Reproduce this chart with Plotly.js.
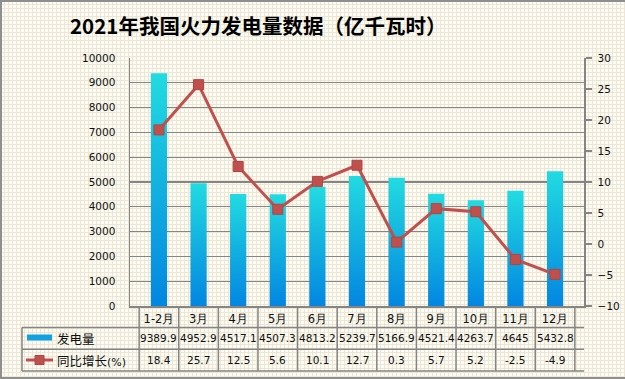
<!DOCTYPE html>
<html>
<head>
<meta charset="utf-8">
<script src="https://cdn.plot.ly/plotly-3.0.1.min.js"></script>
<style>
  html, body { margin: 0; padding: 0; }
  body {
    width: 625px; height: 379px; overflow: hidden; position: relative;
    background-color: #fcfbf4;
    background-image: linear-gradient(#ebe7d4 1px, transparent 1px), linear-gradient(90deg, #ebe7d4 1px, transparent 1px);
    background-size: 4px 4px;
  }
  #chart { width: 625px; height: 379px; position: absolute; left: 0; top: 0; }
  #frame { position: absolute; left: 0; top: 0; width: 625px; height: 379px; box-sizing: border-box;
    border-top: 2px solid #8f8f8f; border-left: 2px solid #8f8f8f; border-bottom: 2px solid #8f8f8f; pointer-events: none; }
</style>
</head>
<body>
<div id="chart"></div>
<div id="frame"></div>
<script>
const months = ['1-2月','3月','4月','5月','6月','7月','8月','9月','10月','11月','12月'];
const generation = [9389.9, 4952.9, 4517.1, 4507.3, 4813.2, 5239.7, 5166.9, 4521.4, 4263.7, 4645, 5432.8];
const growth = [18.4, 25.7, 12.5, 5.6, 10.1, 12.7, 0.3, 5.7, 5.2, -2.5, -4.9];
const seriesNames = ['发电量', '同比增长(%)'];
const titleText = '2021年我国火力发电量数据（亿千瓦时）';

const W = 625, H = 379, L = 130, R = 41, T = 58, B = 73;
const pw = W - L - R, ph = H - T - B;
const px = v => (v - L) / pw;          // pixel x -> paper x
const py = v => (H - B - v) / ph;      // pixel y -> paper y

const gray = '#858585';
const numFont = {family: 'DejaVu Sans, Verdana, sans-serif', size: 10.5, color: '#111'};
const cjkFont = {family: 'Noto Sans CJK SC, sans-serif', size: 12.5, color: '#111'};

const traces = [
  {type: 'bar', x: months, y: generation, name: seriesNames[0], yaxis: 'y',
   marker: {color: '#12a6e2', line: {width: 0}}, hoverinfo: 'none'},
  {type: 'scatter', mode: 'lines+markers', x: months, y: growth, name: seriesNames[1], yaxis: 'y2',
   line: {color: '#c0504d', width: 3},
   marker: {symbol: 'square', size: 10, color: '#c0504d', line: {color: '#b04542', width: 1}}, hoverinfo: 'none'}
];

const row1 = 327.5, row2 = 349.3, row3 = 371;
const legLeft = 22;
const shapes = [];
[row1, row2, row3].forEach(yv => shapes.push({type: 'line', xref: 'paper', yref: 'paper',
  x0: px(legLeft), x1: 1, y0: py(yv), y1: py(yv), line: {color: gray, width: 1.5}}));
for (let i = 0; i <= months.length; i++) {
  shapes.push({type: 'line', xref: 'x', yref: 'paper', x0: i - 0.5, x1: i - 0.5,
    y0: 0, y1: py(row3), line: {color: gray, width: 1.5}});
}
shapes.push({type: 'line', xref: 'paper', yref: 'paper', x0: px(legLeft), x1: px(legLeft),
  y0: py(row1), y1: py(row3), line: {color: gray, width: 1.5}});
shapes.push({type: 'rect', xref: 'paper', yref: 'paper', x0: px(27), x1: px(52), y0: py(334.5), y1: py(340.5),
  fillcolor: '#12a2e2', line: {width: 0}});
shapes.push({type: 'line', xref: 'paper', yref: 'paper', x0: px(26), x1: px(53), y0: py(360), y1: py(360),
  line: {color: '#c0504d', width: 3}});
shapes.push({type: 'rect', xref: 'paper', yref: 'paper', x0: px(35), x1: px(44), y0: py(355.5), y1: py(364.5),
  fillcolor: '#c0504d', line: {color: '#b04542', width: 1}});

const annotations = [];
annotations.push({text: '<b>' + titleText + '</b>', xref: 'paper', yref: 'paper', x: px(258), y: py(25),
  showarrow: false, font: {family: 'Noto Sans CJK SC, sans-serif', size: 20.5, color: '#000'}, xanchor: 'center', yanchor: 'middle'});
months.forEach((m, i) => {
  annotations.push({text: String(generation[i]), x: m, xref: 'x', yref: 'paper', y: py((row1 + row2) / 2),
    showarrow: false, font: numFont, xanchor: 'center', yanchor: 'middle'});
  annotations.push({text: String(growth[i]), x: m, xref: 'x', yref: 'paper', y: py((row2 + row3) / 2),
    showarrow: false, font: numFont, xanchor: 'center', yanchor: 'middle'});
});
annotations.push({text: seriesNames[0], xref: 'paper', yref: 'paper', x: px(55), y: py(338),
  showarrow: false, font: cjkFont, xanchor: 'left', yanchor: 'middle'});
annotations.push({text: seriesNames[1].replace('(%)', '') + '<span style="font-family:DejaVu Sans;font-size:11px">(%)</span>',
  xref: 'paper', yref: 'paper', x: px(55), y: py(360),
  showarrow: false, font: cjkFont, xanchor: 'left', yanchor: 'middle'});

const layout = {
  width: W, height: H,
  margin: {l: L, r: R, t: T, b: B, pad: 0},
  paper_bgcolor: 'rgba(0,0,0,0)', plot_bgcolor: 'rgba(0,0,0,0)',
  showlegend: false,
  bargap: 0.59,
  xaxis: {type: 'category', showline: true, linecolor: gray, linewidth: 1.5, ticks: '', showgrid: false,
    tickfont: {family: 'DejaVu Sans, Verdana, sans-serif', size: 11.5, color: '#111'}, ticklabelstandoff: 2, fixedrange: true},
  yaxis: {range: [0, 10000], dtick: 1000, tickformat: 'd', showgrid: true, gridcolor: gray, gridwidth: 1.2, zeroline: false,
    showline: true, linecolor: gray, linewidth: 1.5, ticks: '', tickfont: numFont, ticklabelstandoff: 11, fixedrange: true},
  yaxis2: {range: [-10, 30], dtick: 5, overlaying: 'y', side: 'right', showgrid: false, zeroline: false,
    showline: true, linecolor: gray, linewidth: 1.5, ticks: 'outside', ticklen: 6, tickcolor: gray, tickwidth: 1.2,
    tickfont: numFont, ticklabelstandoff: 4, fixedrange: true},
  shapes: shapes,
  annotations: annotations
};

Plotly.newPlot('chart', traces, layout, {staticPlot: true, displayModeBar: false}).then(gd => {
  const svg = gd.querySelector('svg.main-svg');
  const ns = 'http://www.w3.org/2000/svg';
  let defs = svg.querySelector('defs');
  if (!defs) { defs = document.createElementNS(ns, 'defs'); svg.insertBefore(defs, svg.firstChild); }
  const g = document.createElementNS(ns, 'linearGradient');
  g.setAttribute('id', 'barGrad');
  g.setAttribute('x1', '0'); g.setAttribute('y1', '0'); g.setAttribute('x2', '0'); g.setAttribute('y2', '1');
  [['0', '#22dbe1'], ['0.5', '#12b0e0'], ['1', '#0386e2']].forEach(([o, c]) => {
    const s = document.createElementNS(ns, 'stop');
    s.setAttribute('offset', o); s.setAttribute('stop-color', c); g.appendChild(s);
  });
  defs.appendChild(g);
  gd.querySelectorAll('.bars .point path').forEach(p => { p.style.fill = 'url(#barGrad)'; });
});
</script>
</body>
</html>
